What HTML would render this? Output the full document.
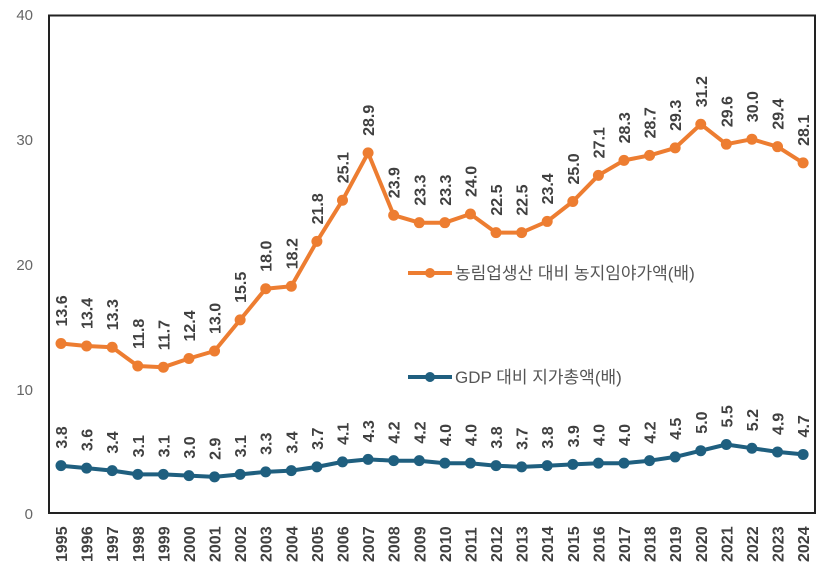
<!DOCTYPE html>
<html><head><meta charset="utf-8"><style>
body{margin:0;background:#fff;width:832px;height:577px;overflow:hidden}
svg{display:block}
text{font-family:"Liberation Sans","Noto Sans CJK KR",sans-serif}
</style></head><body>
<svg id="c" width="832" height="577" xmlns="http://www.w3.org/2000/svg">
<rect x="49" y="15.5" width="766" height="497.5" fill="none" stroke="#222" stroke-width="2"/>
<g fill="#666" font-size="15" text-anchor="end">
<text x="33" y="20">40</text><text x="33" y="145">30</text><text x="33" y="270">20</text><text x="33" y="395">10</text><text x="33" y="519">0</text>
</g>
<line x1="408" y1="273" x2="452" y2="273" stroke="#ED7D31" stroke-width="4"/>
<circle cx="430" cy="273" r="5" fill="#ED7D31"/>
<text x="455" y="279" font-size="17" fill="#555">농림업생산 대비 농지임야가액(배)</text>
<line x1="408" y1="377" x2="452" y2="377" stroke="#1F5F7F" stroke-width="4"/>
<circle cx="430" cy="377" r="5" fill="#1F5F7F"/>
<text x="455" y="383" font-size="17" fill="#555">GDP 대비 지가총액(배)</text>
<g id="g"></g>
</svg>
<script>
var a=[13.6,13.4,13.3,11.8,11.7,12.4,13.0,15.5,18.0,18.2,21.8,25.1,28.9,23.9,23.3,23.3,24.0,22.5,22.5,23.4,25.0,27.1,28.3,28.7,29.3,31.2,29.6,30.0,29.4,28.1];
var b=[3.8,3.6,3.4,3.1,3.1,3.0,2.9,3.1,3.3,3.4,3.7,4.1,4.3,4.2,4.2,4.0,4.0,3.8,3.7,3.8,3.9,4.0,4.0,4.2,4.5,5.0,5.5,5.2,4.9,4.7];
var X=i=>61+i*25.59, Y=v=>513-v*12.46;
var s='';
function ser(d,c){var p=d.map((v,i)=>X(i).toFixed(1)+','+Y(v).toFixed(1)).join(' ');
s+='<polyline points="'+p+'" fill="none" stroke="'+c+'" stroke-width="4" stroke-linejoin="round"/>';
d.forEach((v,i)=>{s+='<circle cx="'+X(i)+'" cy="'+Y(v)+'" r="5.5" fill="'+c+'"/>';
var x=X(i)+6,y=Y(v)-17;
s+='<text transform="translate('+x+','+y+') rotate(-90)" font-size="16" font-weight="bold" fill="#404040">'+v.toFixed(1)+'</text>';});}
ser(a,'#ED7D31');ser(b,'#1F5F7F');
for(var i=0;i<30;i++){var x=X(i)+6;s+='<text transform="translate('+x+',562) rotate(-90)" font-size="16" font-weight="bold" fill="#404040">'+(1995+i)+'</text>';}
document.getElementById('g').innerHTML=s;
</script>
</body></html>
